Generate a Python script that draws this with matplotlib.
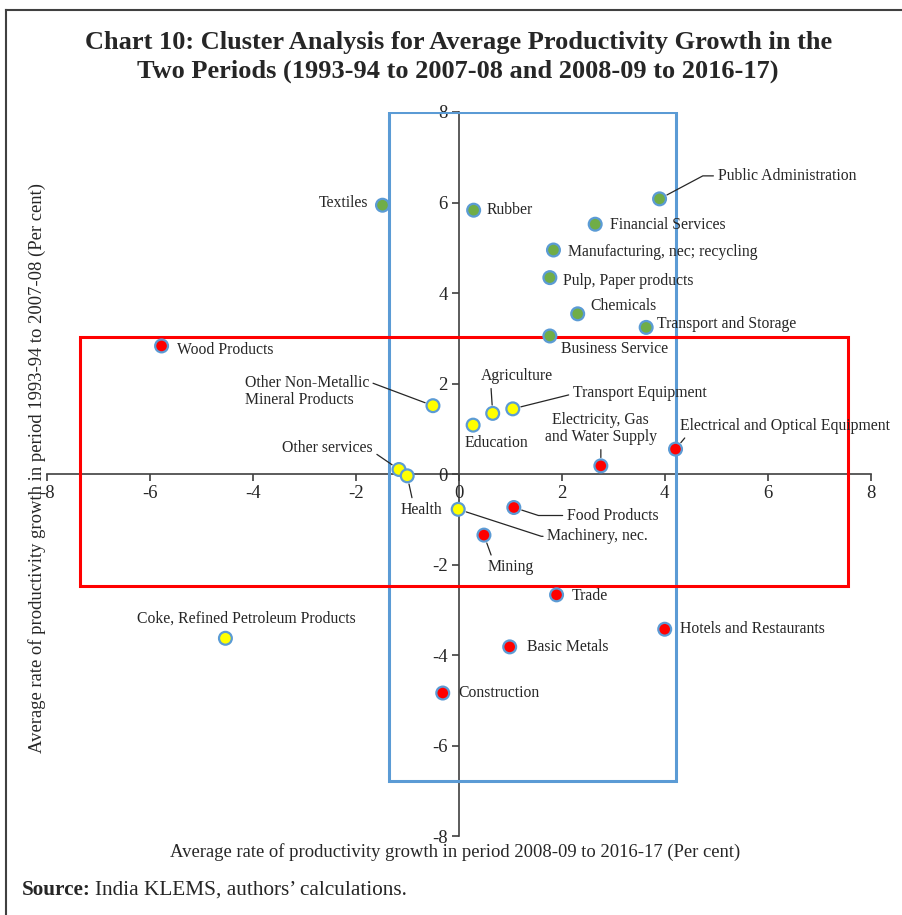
import matplotlib
matplotlib.use("Agg")
import matplotlib.pyplot as plt
from matplotlib.patches import Rectangle
from matplotlib.lines import Line2D

# Sector averages (per cent): x = 2008-09 to 2016-17, y = 1993-94 to 2007-08
sectors = [
    "Textiles", "Rubber", "Public Administration", "Financial Services",
    "Manufacturing, nec; recycling", "Pulp, Paper products", "Chemicals",
    "Transport and Storage", "Business Service", "Wood Products",
    "Other Non-Metallic\nMineral Products", "Agriculture", "Transport Equipment",
    "Education", "Electricity, Gas\nand Water Supply",
    "Electrical and Optical Equipment", "Other services", "Health",
    "Food Products", "Machinery, nec.", "Mining", "Trade",
    "Hotels and Restaurants", "Basic Metals", "Construction",
    "Coke, Refined Petroleum Products",
]
growth_late = [
    -1.48, 0.29, 3.90, 2.65, 1.84, 1.77, 2.31, 3.64, 1.77, -5.77,
    -0.50, 0.66, 1.05, 0.28, 2.76, 4.21, -1.16, -1.00,
    1.07, -0.01, 0.49, 1.90, 4.00, 0.99, -0.31, -4.53,
]
growth_early = [
    5.94, 5.83, 6.08, 5.52, 4.95, 4.34, 3.54, 3.24, 3.05, 2.83,
    1.51, 1.34, 1.44, 1.08, 0.18, 0.55, 0.10, -0.04,
    -0.74, -0.78, -1.35, -2.67, -3.43, -3.82, -4.84, -3.63,
]
cluster = [
    "green", "green", "green", "green", "green", "green", "green",
    "green", "green", "red", "yellow", "yellow", "yellow", "yellow",
    "red", "red", "yellow", "yellow", "red", "yellow", "red", "red",
    "red", "red", "red", "yellow",
]
ticks = [-8, -6, -4, -2, 0, 2, 4, 6, 8]

# cluster boxes: (x0, x1, y0, y1)
blue_box = (-1.35, 4.22, -6.78, 8.0)
red_box = (-7.35, 7.56, -2.47, 3.02)

COLORS = {"green": "#70AD47", "red": "#FF0000", "yellow": "#FFFF00"}
EDGE = "#5B9BD5"
INK = "#262626"

# label placement in pixels relative to the marker: dx, dy, ha, leader
LAYOUT = {
    "Textiles": (-14, 2, "right", None),
    "Rubber": (13, 0, "left", None),
    "Public Administration": (58, 23, "left", dict(relpos=(0, 0.5), conn="angle,angleA=0,angleB=28,rad=0")),
    "Financial Services": (15, -1, "left", None),
    "Manufacturing, nec; recycling": (15, -2, "left", None),
    "Pulp, Paper products": (13, -3, "left", None),
    "Chemicals": (13, 8, "left", None),
    "Transport and Storage": (11, 3, "left", None),
    "Business Service": (11, -13, "left", None),
    "Wood Products": (15, -4, "left", None),
    "Other Non-Metallic\nMineral Products": (-64, 14, "right", dict(relpos=(1, 0.8), conn="arc3")),
    "Agriculture": (-12, 37, "left", dict(relpos=(0.14, 0), conn="arc3")),
    "Transport Equipment": (60, 16, "left", dict(relpos=(0, 0.5), conn="angle,angleA=0,angleB=14,rad=0")),
    "Education": (-9, -18, "left", None),
    "Electricity, Gas\nand Water Supply": (0, 37, "center", dict(relpos=(0.5, 0), conn="arc3")),
    "Electrical and Optical Equipment": (4, 23, "left", dict(relpos=(0.04, 0), conn="arc3")),
    "Other services": (-26, 21, "right", dict(relpos=(1, 0.3), conn="arc3")),
    "Health": (14, -34, "center", dict(relpos=(0.3, 1), conn="arc3")),
    "Food Products": (53, -8, "left", dict(relpos=(0, 0.5), conn="angle,angleA=0,angleB=-18,rad=0")),
    "Machinery, nec.": (89, -27, "left", dict(relpos=(0, 0.5), conn="angle,angleA=0,angleB=-18,rad=0")),
    "Mining": (4, -32, "left", dict(relpos=(0.1, 1), conn="arc3")),
    "Trade": (15, -1, "left", None),
    "Hotels and Restaurants": (15, 0, "left", None),
    "Basic Metals": (17, 0, "left", None),
    "Construction": (16, 0, "left", None),
    "Coke, Refined Petroleum Products": (21, 20, "center", None),
}

plt.rcParams["font.family"] = ["Liberation Serif", "DejaVu Serif"]
plt.rcParams["axes.unicode_minus"] = False

fig = plt.figure(figsize=(9.02, 9.15), dpi=100)
ax = fig.add_axes([0.0518, 0.0863, 0.9135, 0.7913])
ax.set_xlim(-8, 8)
ax.set_ylim(-8, 8)

for side in ("top", "right"):
    ax.spines[side].set_visible(False)
for side in ("left", "bottom"):
    ax.spines[side].set_position(("data", 0))
    ax.spines[side].set_color("#404040")
    ax.spines[side].set_linewidth(1.2)
    ax.spines[side].set_zorder(1)
ax.set_xticks(ticks)
ax.set_yticks(ticks)
ax.tick_params(direction="out", length=5, width=1.2, color="#404040",
               labelsize=13.5, labelcolor=INK, pad=3)

for (x0, x1, y0, y1), col in ((blue_box, EDGE), (red_box, "#FF0000")):
    ax.add_patch(Rectangle((x0, y0), x1 - x0, y1 - y0, fill=False,
                           edgecolor=col, lw=2.2, zorder=2))

ax.scatter(growth_late, growth_early, s=85,
           c=[COLORS[c] for c in cluster], edgecolors=EDGE, linewidths=1.6,
           zorder=4)

for name, x, y in zip(sectors, growth_late, growth_early):
    dx, dy, ha, leader = LAYOUT[name]
    kw = {}
    if leader:
        kw["arrowprops"] = dict(arrowstyle="-", color=INK, lw=0.9,
                                shrinkA=1, shrinkB=6, relpos=leader["relpos"],
                                connectionstyle=leader["conn"])
    ax.annotate(name, (x, y), xytext=(dx, dy), textcoords="offset pixels",
                ha=ha, va="center", multialignment=ha if ha == "center" else "left",
                fontsize=11.3, color=INK, zorder=3, linespacing=1.1, **kw)

fig.text(0.508, 0.9375, "Chart 10: Cluster Analysis for Average Productivity Growth in the\n"
         "Two Periods (1993-94 to 2007-08 and 2008-09 to 2016-17)",
         ha="center", va="center", fontsize=19, fontweight="bold",
         color=INK, linespacing=1.3)

fig.text(0.505, 0.069, "Average rate of productivity growth in period 2008-09 to 2016-17 (Per cent)",
         ha="center", va="center", fontsize=13.4, color=INK)
fig.text(0.041, 0.489, "Average rate of productivity growth in period 1993-94 to 2007-08 (Per cent)",
         ha="center", va="center", rotation=90, fontsize=13.4, color=INK)

src = fig.text(0.024, 0.027, "Source:", ha="left", va="center",
               fontsize=15.3, fontweight="bold", color=INK)
fig.canvas.draw()
bb = src.get_window_extent().transformed(fig.transFigure.inverted())
fig.text(bb.x1 + 0.005, 0.027, "India KLEMS, authors\u2019 calculations.",
         ha="left", va="center", fontsize=15.3, color=INK)

# frame edges visible along the top and left of the panel
fig.add_artist(Line2D([0.007, 0.007], [0.0, 0.989], color="#404040", lw=1.5))
fig.add_artist(Line2D([0.007, 1.0], [0.989, 0.989], color="#404040", lw=1.5))

fig.savefig("out.png", dpi=100)
